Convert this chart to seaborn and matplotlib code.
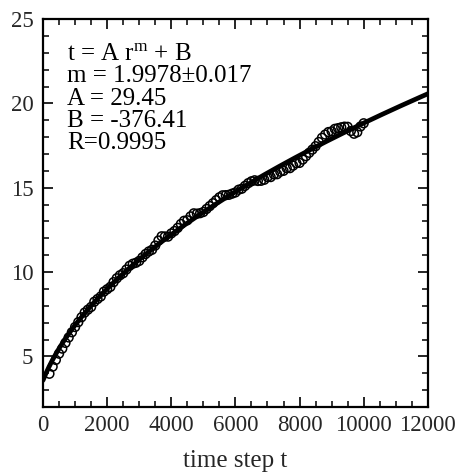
import numpy as np
import pandas as pd
import matplotlib
matplotlib.use("Agg")
import matplotlib.pyplot as plt
from matplotlib.ticker import MultipleLocator
import seaborn as sns

# ---- data ----
time_step = [200, 300, 400, 500, 600, 700, 800, 900, 1000,
             1100, 1200, 1300, 1400, 1500, 1600, 1700, 1800, 1900, 2000,
             2100, 2200, 2300, 2400, 2500, 2600, 2700, 2800, 2900, 3000,
             3100, 3200, 3300, 3400, 3500, 3600, 3700, 3800, 3900, 4000,
             4100, 4200, 4300, 4400, 4500, 4600, 4700, 4800, 4900, 5000,
             5100, 5200, 5300, 5400, 5500, 5600, 5700, 5800, 5900, 6000,
             6100, 6200, 6300, 6400, 6500, 6600, 6700, 6800, 6900, 7000,
             7100, 7200, 7300, 7400, 7500, 7600, 7700, 7800, 7900, 8000,
             8100, 8200, 8300, 8400, 8500, 8600, 8700, 8800, 8900, 9000,
             9100, 9200, 9300, 9400, 9500, 9600, 9700, 9800, 9900, 10000]
radius = [3.97, 4.39, 4.79, 5.16, 5.46, 5.80, 6.12, 6.43, 6.74,
          7.03, 7.32, 7.60, 7.77, 7.93, 8.24, 8.40, 8.55, 8.84, 8.98,
          9.12, 9.40, 9.63, 9.81, 9.93, 10.15, 10.37, 10.49, 10.55, 10.66,
          10.87, 11.07, 11.22, 11.32, 11.57, 11.87, 12.12, 12.11, 12.10, 12.29,
          12.43, 12.62, 12.85, 13.04, 13.07, 13.30, 13.48, 13.46, 13.49, 13.56,
          13.74, 13.91, 14.08, 14.26, 14.43, 14.55, 14.56, 14.58, 14.65, 14.72,
          14.88, 14.94, 15.11, 15.27, 15.38, 15.44, 15.40, 15.41, 15.47, 15.63,
          15.63, 15.79, 15.80, 15.95, 16.00, 16.16, 16.16, 16.31, 16.46, 16.47,
          16.67, 16.87, 17.07, 17.26, 17.46, 17.71, 17.96, 18.15, 18.30, 18.34,
          18.49, 18.53, 18.58, 18.62, 18.61, 18.36, 18.20, 18.29, 18.63, 18.82]

# fit parameters shown on the chart: t = A r^m + B
fit_A = 29.45
fit_B = -376.41
fit_m = 1.9978
fit_t_range = [0, 12000]

fit_lines = ["t = A r$^{\\mathrm{m}}$ + B",
             "m = 1.9978\u00b10.017",
             "A = 29.45",
             "B = -376.41",
             "R=0.9995"]

x_ticks = [0, 2000, 4000, 6000, 8000, 10000, 12000]
y_ticks = [5, 10, 15, 20, 25]
x_label = "time step t"

# ---- styling ----
sns.set_style("ticks")
plt.rcParams["font.family"] = ["Liberation Serif", "DejaVu Serif"]
plt.rcParams["mathtext.fontset"] = "custom"
plt.rcParams["mathtext.rm"] = "Liberation Serif"
plt.rcParams["mathtext.it"] = "Liberation Serif:italic"

fig = plt.figure(figsize=(4.6, 4.76), dpi=100)
ax = fig.add_axes([0.0935, 0.145, 0.8365, 0.815])

df_pts = pd.DataFrame({"t": time_step, "r": radius})
fit_t = np.linspace(fit_t_range[0], fit_t_range[1], 400)
fit_r = ((fit_t - fit_B) / fit_A) ** (1.0 / fit_m)
df_fit = pd.DataFrame({"t": fit_t, "r": fit_r})

sns.scatterplot(data=df_pts, x="t", y="r", ax=ax, marker="o", s=40,
                facecolor="none", edgecolor="black", linewidth=1.1, zorder=2)
sns.lineplot(data=df_fit, x="t", y="r", ax=ax, color="black", linewidth=3.4,
             zorder=3, sort=False)

ax.set_xlim(0, 12000)
ax.set_ylim(2, 25)
ax.set_xticks(x_ticks)
ax.set_xticklabels([str(v) for v in x_ticks])
ax.set_yticks(y_ticks)
ax.set_yticklabels([str(v) for v in y_ticks])
ax.xaxis.set_minor_locator(MultipleLocator(500))
ax.yaxis.set_minor_locator(MultipleLocator(1))
ax.tick_params(which="both", direction="in", top=True, right=True, color="black")
ax.tick_params(which="major", length=7, width=1.2, labelsize=16.5, pad=6)
ax.tick_params(which="minor", length=4, width=1.1)
ax.tick_params(axis="y", which="major", pad=7)
for sp in ax.spines.values():
    sp.set_linewidth(1.6)
    sp.set_color("black")
    sp.set_visible(True)

ax.set_xlabel(x_label, fontsize=18, labelpad=10)
ax.set_ylabel("")

y0 = 0.91
dy = 0.0575
for i, line in enumerate(fit_lines):
    ax.text(0.062, y0 - i * dy, line, transform=ax.transAxes,
            fontsize=18, va="center", ha="left", color="black")

fig.savefig("out.png", dpi=100)
